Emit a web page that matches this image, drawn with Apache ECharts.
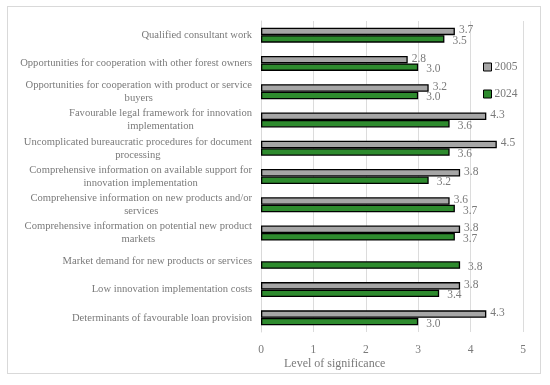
<!DOCTYPE html>
<html>
<head>
<meta charset="utf-8">
<script src="https://cdn.jsdelivr.net/npm/echarts@6/dist/echarts.min.js"></script>
<style>
html,body{margin:0;padding:0;background:#fff;}
#frame{position:absolute;left:7px;top:6px;width:534px;height:368px;border:1px solid #d9d9d9;box-sizing:border-box;}
#chart{position:absolute;left:0;top:0;width:550px;height:385px;}
</style>
</head>
<body>
<div id="frame"></div>
<div id="chart"></div>
<script>
const categories = [
  "Qualified consultant work",
  "Opportunities for cooperation with other forest owners",
  "Opportunities for cooperation with product or service\nbuyers",
  "Favourable legal framework for innovation\nimplementation",
  "Uncomplicated bureaucratic procedures for document\nprocessing",
  "Comprehensive information on available support for\ninnovation implementation",
  "Comprehensive information on new products and/or\nservices",
  "Comprehensive information on potential new product\nmarkets",
  "Market demand for new products or services",
  "Low innovation implementation costs",
  "Determinants of favourable loan provision"
];
const values2005 = [3.7, 2.8, 3.2, 4.3, 4.5, 3.8, 3.6, 3.8, null, 3.8, 4.3];
const values2024 = [3.5, 3.0, 3.0, 3.6, 3.6, 3.2, 3.7, 3.7, 3.8, 3.4, 3.0];
const xTicks = [0, 1, 2, 3, 4, 5];

const FONT = "Liberation Serif";
const TXT = "#7a7a7a";
const chart = echarts.init(document.getElementById('chart'), null, {renderer: 'canvas'});
chart.setOption({
  animation: false,
  textStyle: {fontFamily: FONT},
  title: {
    text: "Level of significance",
    left: 279, top: 353,
    textStyle: {fontFamily: FONT, fontSize: 12, fontWeight: 'normal', color: TXT}
  },
  legend: {
    orient: 'vertical',
    left: 478, top: 56,
    itemWidth: 8, itemHeight: 8, itemGap: 15,
    textStyle: {fontFamily: FONT, fontSize: 11.5, color: TXT, padding: [0,0,0,-2]},
    data: [
      {name: '2005', icon: 'rect', itemStyle: {color: '#a6a6a6', borderColor: '#000', borderWidth: 1}},
      {name: '2024', icon: 'rect', itemStyle: {color: '#2e8b2e', borderColor: '#000', borderWidth: 1}}
    ]
  },
  grid: {left: 261, right: 27, top: 21, bottom: 53, containLabel: false},
  xAxis: {
    type: 'value', min: xTicks[0], max: xTicks[xTicks.length-1], interval: 1,
    axisLine: {show: false}, axisTick: {show: false},
    splitLine: {show: true, lineStyle: {color: '#dcdcdc', width: 1}},
    axisLabel: {fontFamily: FONT, fontSize: 11.5, color: TXT, margin: 12}
  },
  yAxis: {
    type: 'category', data: categories, inverse: true,
    axisLine: {show: true, lineStyle: {color: '#d9d9d9'}},
    axisTick: {show: false},
    axisLabel: {
      fontFamily: FONT, fontSize: 10.6, color: TXT, margin: 9, align: 'right', lineHeight: 13,
      formatter: function (v) { return v.split('\n').map(s => '{c|' + s + '}').join('\n'); },
      rich: {c: {align: 'center', fontFamily: FONT, fontSize: 10.6, color: TXT, lineHeight: 13}}
    }
  },
  series: [
    {
      name: '2005', type: 'bar', data: values2005,
      barWidth: 7.5, barGap: '0%', barCategoryGap: '43%',
      itemStyle: {color: '#a6a6a6', borderColor: '#000', borderWidth: 1.3},
      label: {show: true, position: 'right', distance: 4, offset: [0, -1], fontFamily: FONT, fontSize: 11.5, color: TXT,
        formatter: p => p.value == null ? '' : p.value.toFixed(1)}
    },
    {
      name: '2024', type: 'bar', data: values2024,
      barWidth: 7.5, barGap: '0%',
      itemStyle: {color: '#2e8b2e', borderColor: '#000', borderWidth: 1.3},
      label: {show: true, position: 'right', distance: 8, offset: [0, 2], fontFamily: FONT, fontSize: 11.5, color: TXT,
        formatter: p => p.value.toFixed(1)}
    }
  ]
});
</script>
</body>
</html>
